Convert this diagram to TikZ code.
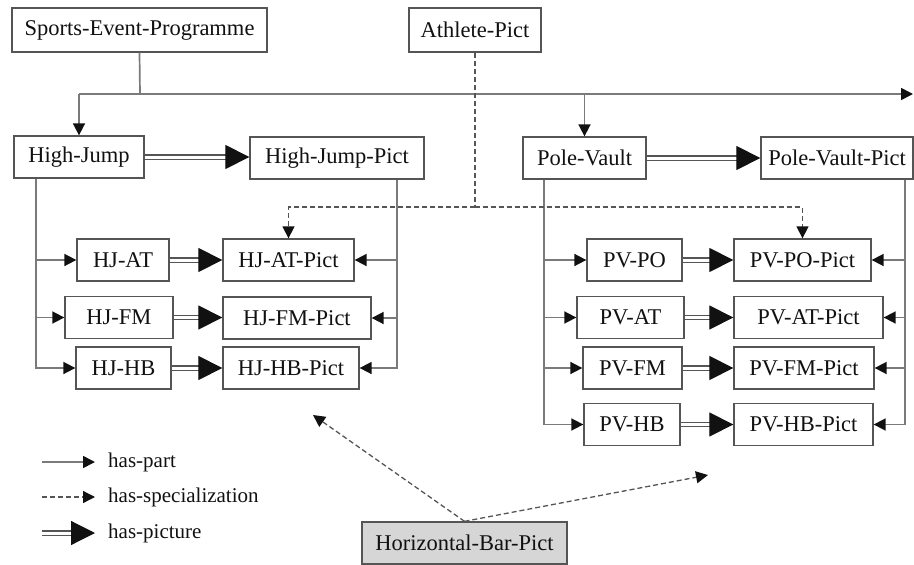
\documentclass[tikz,border=0pt]{standalone}
\usepackage{fontspec}
\setmainfont{Liberation Serif}
\usetikzlibrary{calc,arrows.meta}
\definecolor{Ink}{HTML}{111111}
\definecolor{Edge}{HTML}{555555}
\definecolor{Wire}{HTML}{7A7A7A}
\definecolor{Shade}{HTML}{D6D6D6}
\tikzset{
  entity/.style={draw=Edge,line width=1.3pt,fill=white,minimum height=42pt,inner sep=0pt,
    font=\fontsize{22.5}{27}\selectfont},
  haspart/.style={draw=Wire,line width=1.7pt,-{Triangle[length=12pt,width=12pt,color=Ink]}},
  hasspec/.style={draw=Edge,line width=1.3pt,dash pattern=on 5pt off 3pt,
    -{Triangle[length=12pt,width=12pt,color=Ink]}},
  haspict/.style={draw=Edge,line width=1.2pt,double=white,double distance=3pt,
    -{Triangle[length=24pt,width=24pt,color=Ink]}},
  legendtext/.style={anchor=west,inner sep=0pt,font=\fontsize{21}{25}\selectfont}
}

\begin{document}
\begin{tikzpicture}[x=1pt,y=-1pt,every node/.style={text=Ink}]
  \useasboundingbox (0,0) rectangle (914,565);

  % top level
  \node[entity,minimum width=255pt,minimum height=44pt] (sep) at (139.5,30) {Sports-Event-Programme};
  \node[entity,minimum width=132pt,minimum height=44pt] (ath) at (475,30) {Athlete-Pict};

  \node[entity,minimum width=130pt] (hj)  at (79,157)    {High-Jump};
  \node[entity,minimum width=174pt] (hjp) at (337,158)   {High-Jump-Pict};
  \node[entity,minimum width=123pt] (pv)  at (584.5,158) {Pole-Vault};
  \node[entity,minimum width=152pt] (pvp) at (837,158)   {Pole-Vault-Pict};

  % high jump parts
  \node[entity,minimum width=92pt]  (hjat)  at (123,260)   {HJ-AT};
  \node[entity,minimum width=131pt] (hjatp) at (288.5,260) {HJ-AT-Pict};
  \node[entity,minimum width=108pt] (hjfm)  at (119,317.5) {HJ-FM};
  \node[entity,minimum width=148pt] (hjfmp) at (297,318)   {HJ-FM-Pict};
  \node[entity,minimum width=95pt]  (hjhb)  at (123.5,368) {HJ-HB};
  \node[entity,minimum width=136pt] (hjhbp) at (291,368)   {HJ-HB-Pict};

  % pole vault parts
  \node[entity,minimum width=95pt]  (pvpo)  at (634.5,260) {PV-PO};
  \node[entity,minimum width=137pt] (pvpop) at (802.5,260) {PV-PO-Pict};
  \node[entity,minimum width=107pt] (pvat)  at (630.5,317.5) {PV-AT};
  \node[entity,minimum width=149pt] (pvatp) at (808.5,317.5) {PV-AT-Pict};
  \node[entity,minimum width=99pt]  (pvfm)  at (632.5,368) {PV-FM};
  \node[entity,minimum width=140pt] (pvfmp) at (804,368)   {PV-FM-Pict};
  \node[entity,minimum width=96pt]  (pvhb)  at (632,424.5) {PV-HB};
  \node[entity,minimum width=139pt] (pvhbp) at (803.5,424.5) {PV-HB-Pict};

  \node[entity,fill=Shade,minimum width=205pt] (hbp) at (464.5,543) {Horizontal-Bar-Pict};

  % has-part bus
  \coordinate (bus) at (140,94);
  \coordinate (busend) at (913,94);
  \draw[haspart,-] (sep.south) -- (bus);
  \draw[haspart] (hj.north |- bus) -- (busend);
  \draw[haspart] (hj.north |- bus) -- (hj.north);
  \draw[haspart] (pv.north |- bus) -- (pv.north);

  \foreach \n in {hjat,hjfm,hjhb}
    \draw[haspart] ([xshift=-43pt]hj.south) |- (\n.west);
  \foreach \n in {hjatp,hjfmp,hjhbp}
    \draw[haspart] ([xshift=60pt]hjp.south) |- (\n.east);
  \foreach \n in {pvpo,pvat,pvfm,pvhb}
    \draw[haspart] ([xshift=-40.5pt]pv.south) |- (\n.west);
  \foreach \n in {pvpop,pvatp,pvfmp,pvhbp}
    \draw[haspart] ([xshift=68pt]pvp.south) |- (\n.east);

  % has-picture
  \foreach \a/\b in {hj/hjp,pv/pvp,hjat/hjatp,hjfm/hjfmp,hjhb/hjhbp,
                     pvpo/pvpop,pvat/pvatp,pvfm/pvfmp,pvhb/pvhbp}
    \draw[haspict] (\a.east) -- (\a.east -| \b.west);

  % has-specialization
  \coordinate (spec) at (475,207);
  \draw[hasspec,-] (ath.south) -- (spec);
  \draw[hasspec] (spec) -| (hjatp.north);
  \draw[hasspec] (spec) -| (pvpop.north);
  \coordinate (hbleft) at (313,415);
  \coordinate (hbright) at (708,475);
  \draw[hasspec] (hbp.north) -- (hbleft);
  \draw[hasspec] (hbp.north) -- (hbright);

  % legend
  \node[legendtext] (lpart) at (108,462) {has-part};
  \node[legendtext] (lspec) at (108,497) {has-specialization};
  \node[legendtext] (lpict) at (108,533) {has-picture};
  \coordinate (lp) at (42,462);
  \coordinate (ls) at (42,497);
  \coordinate (lc) at (42,533);
  \draw[haspart] (lp) -- ([xshift=-13pt]lpart.west);
  \draw[hasspec] (ls) -- ([xshift=-13pt]lspec.west);
  \draw[haspict] (lc) -- ([xshift=-13pt]lpict.west);
\end{tikzpicture}
\end{document}
